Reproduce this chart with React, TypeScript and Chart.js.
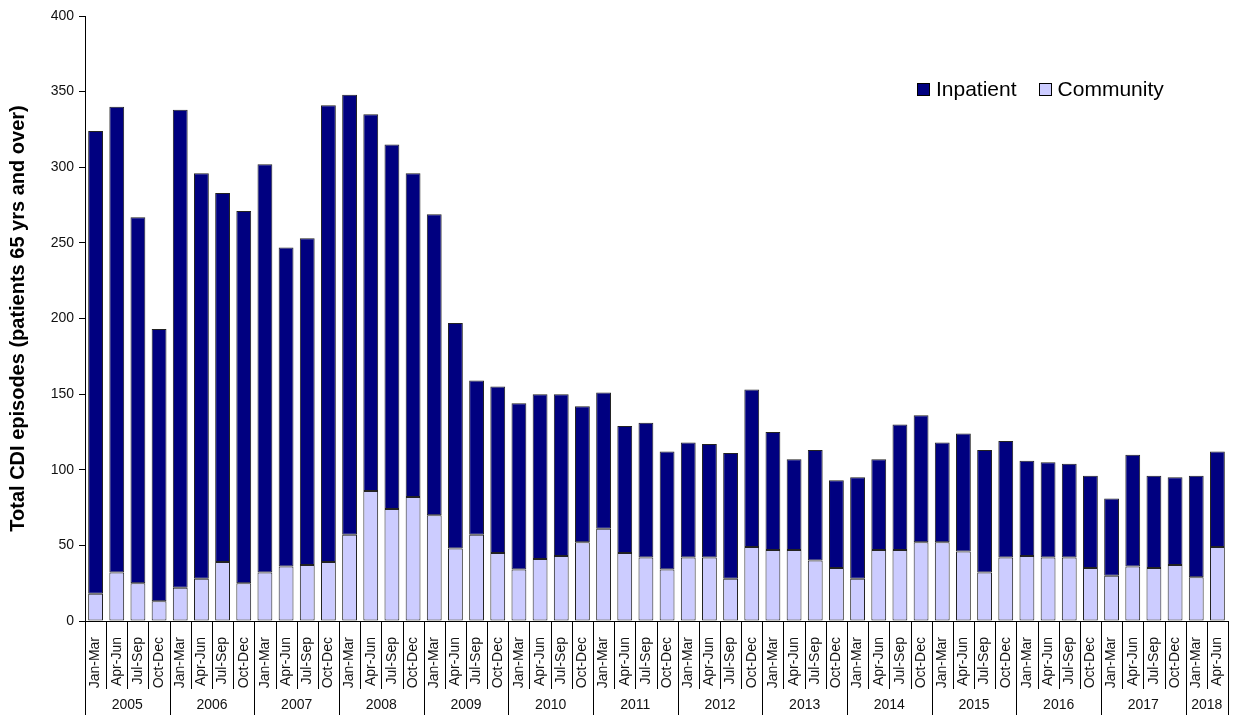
import { useEffect, useRef } from 'react';
import { Chart, registerables } from 'chart.js';

Chart.register(...registerables);

const YEARS = ['2005', '2006', '2007', '2008', '2009', '2010', '2011', '2012', '2013', '2014', '2015', '2016', '2017', '2018'];
const QUARTERS = ['Jan-Mar', 'Apr-Jun', 'Jul-Sep', 'Oct-Dec'];
const QUARTERS_PER_YEAR = [4, 4, 4, 4, 4, 4, 4, 4, 4, 4, 4, 4, 4, 2];

const COMMUNITY = [
  18, 32, 25, 13, 22, 28, 39, 25, 32, 36, 37, 39, 57, 86, 74, 82, 70, 48, 57, 45,
  34, 41, 43, 52, 61, 45, 42, 34, 42, 42, 28, 49, 47, 47, 40, 35, 28, 47, 47, 52,
  52, 46, 32, 42, 43, 42, 42, 35, 30, 36, 35, 37, 29, 49,
];
const INPATIENT = [
  306, 308, 242, 180, 316, 268, 244, 246, 270, 211, 216, 302, 291, 249, 241, 214, 199, 149, 102, 110,
  110, 109, 107, 90, 90, 84, 89, 78, 76, 75, 83, 104, 78, 60, 73, 58, 67, 60, 83, 84,
  66, 78, 81, 77, 63, 63, 62, 61, 51, 74, 61, 58, 67, 63,
];

const Y_TICKS = { min: 0, max: 400, step: 50 };

const labels: string[] = [];
YEARS.forEach((_, yi) => {
  for (let q = 0; q < QUARTERS_PER_YEAR[yi]; q++) labels.push(QUARTERS[q]);
});

const FONT = '"Liberation Sans", Arial, sans-serif';
const INPATIENT_COLOR = '#000080';
const COMMUNITY_COLOR = '#ccccff';

// separators under the axis + year row
const yearRows = {
  id: 'yearRows',
  afterDraw(chart: Chart) {
    const x = chart.scales.x;
    const ctx = chart.ctx;
    const n = labels.length;
    const half = (x.getPixelForValue(1) - x.getPixelForValue(0)) / 2;
    const edge = (i: number) => (i < n ? x.getPixelForValue(i) - half : x.getPixelForValue(n - 1) + half);
    const top = x.top;
    const yearStarts = new Set<number>();
    let acc = 0;
    QUARTERS_PER_YEAR.forEach(c => { yearStarts.add(acc); acc += c; });
    yearStarts.add(n);

    ctx.save();
    ctx.strokeStyle = '#000';
    ctx.lineWidth = 1;
    for (let i = 0; i <= n; i++) {
      const px = Math.round(edge(i)) + 0.5;
      ctx.beginPath();
      ctx.moveTo(px, top);
      ctx.lineTo(px, yearStarts.has(i) ? chart.height : top + 68);
      ctx.stroke();
    }
    ctx.fillStyle = '#111';
    ctx.font = `14px ${FONT}`;
    ctx.textAlign = 'center';
    ctx.textBaseline = 'middle';
    acc = 0;
    YEARS.forEach((yr, yi) => {
      const mid = (edge(acc) + edge(acc + QUARTERS_PER_YEAR[yi])) / 2;
      ctx.fillText(yr, mid, top + 84);
      acc += QUARTERS_PER_YEAR[yi];
    });
    ctx.restore();
  },
};

export default function App() {
  const canvasRef = useRef<HTMLCanvasElement>(null);

  useEffect(() => {
    if (!canvasRef.current) return;
    const chart = new Chart(canvasRef.current, {
      type: 'bar',
      data: {
        labels,
        datasets: [
          {
            label: 'Community',
            data: COMMUNITY,
            backgroundColor: COMMUNITY_COLOR,
            borderColor: '#222',
            borderWidth: 1,
            borderSkipped: false,
            barPercentage: 0.7,
            categoryPercentage: 1,
          },
          {
            label: 'Inpatient',
            data: INPATIENT,
            backgroundColor: INPATIENT_COLOR,
            borderColor: '#222',
            borderWidth: 1,
            borderSkipped: false,
            barPercentage: 0.7,
            categoryPercentage: 1,
          },
        ],
      },
      options: {
        animation: false,
        responsive: true,
        maintainAspectRatio: false,
        layout: { padding: { top: 16, right: 7, left: 0, bottom: 0 } },
        plugins: { legend: { display: false }, tooltip: { enabled: false } },
        scales: {
          x: {
            stacked: true,
            offset: true,
            grid: { display: false },
            border: { color: '#000', width: 1 },
            ticks: {
              autoSkip: false,
              minRotation: 90,
              maxRotation: 90,
              padding: 8,
              color: '#111',
              font: { family: FONT, size: 14 },
            },
            afterFit: (s: any) => { s.height = 94; s.paddingRight = 0; s.paddingLeft = 0; },
          },
          y: {
            stacked: true,
            min: Y_TICKS.min,
            max: Y_TICKS.max,
            grid: { drawOnChartArea: false, drawTicks: true, tickLength: 6, color: '#000' },
            border: { color: '#000', width: 1 },
            ticks: {
              stepSize: Y_TICKS.step,
              padding: 5,
              color: '#111',
              font: { family: FONT, size: 14 },
            },
            title: {
              display: true,
              text: 'Total CDI episodes (patients 65 yrs and over)',
              color: '#000',
              font: { family: FONT, size: 20, weight: 'bold' },
              padding: { top: 6, bottom: 0 },
            },
            afterFit: (s: any) => { s.width = 85; },
          },
        },
      },
      plugins: [yearRows],
    });
    return () => chart.destroy();
  }, []);

  const legendItem = (color: string, text: string) => (
    <div style={{ display: 'flex', alignItems: 'center', marginRight: 22 }}>
      <span style={{ width: 11, height: 11, background: color, border: '1px solid #000', marginRight: 6, display: 'inline-block' }} />
      <span>{text}</span>
    </div>
  );

  return (
    <div style={{ position: 'fixed', left: 0, top: 0, width: 1235, height: 715, background: '#fff' }}>
      <canvas ref={canvasRef} />
      <div style={{ position: 'absolute', left: 917, top: 77, display: 'flex', fontFamily: FONT, fontSize: 21, color: '#000' }}>
        {legendItem(INPATIENT_COLOR, 'Inpatient')}
        {legendItem(COMMUNITY_COLOR, 'Community')}
      </div>
    </div>
  );
}
